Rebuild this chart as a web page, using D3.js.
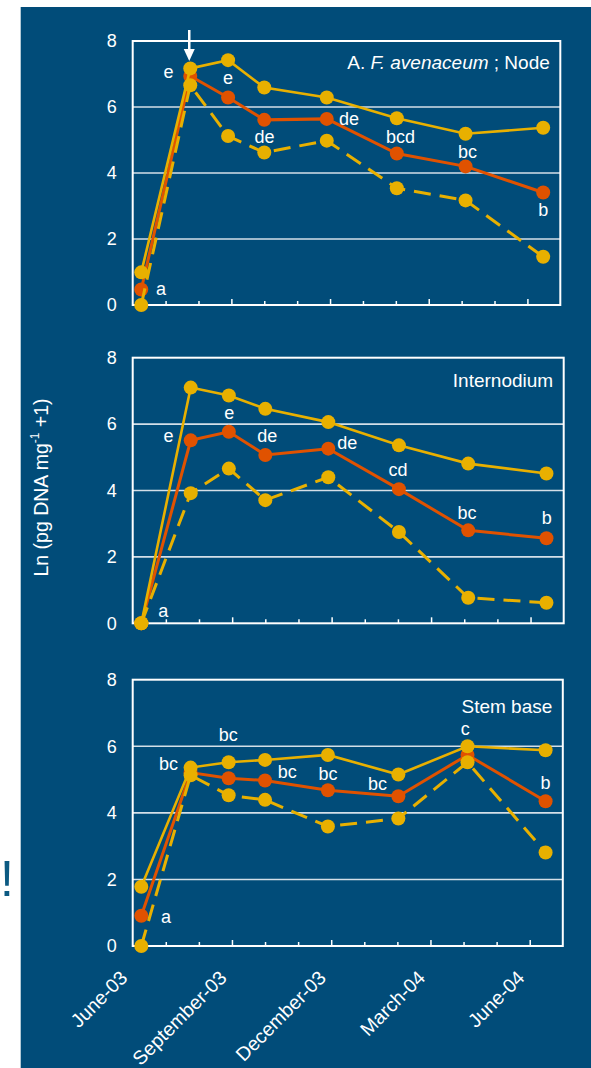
<!DOCTYPE html>
<html>
<head>
<meta charset="utf-8">
<script src="https://cdn.jsdelivr.net/npm/d3@7"></script>
<style>
  body { margin: 0; background: #fff; }
  svg { display: block; }
  text { font-family: "Liberation Sans", Arial, sans-serif; }
</style>
</head>
<body>
<svg width="591" height="1068"></svg>
<script>
// sampling times, in months after 1 June 2003
const sampleMonths = [0.26, 1.75, 2.9, 4.0, 5.9, 8.03, 10.12, 12.48];
const tickMonths = [0, 3, 6, 9, 12];
const tickLabels = ['June-03', 'September-03', 'December-03', 'March-04', 'June-04'];
const yTicks = [0, 2, 4, 6, 8];

// Node
const nodeUpper = [0.99, 7.17, 7.42, 6.59, 6.29, 5.66, 5.19, 5.37];
const nodeMean = [0.47, 6.94, 6.29, 5.61, 5.64, 4.59, 4.20, 3.41];
const nodeLower = [0, 6.66, 5.12, 4.62, 4.98, 3.54, 3.17, 1.46];
const nodeLetters = [[0.86, 0.30, 'a'], [1.09, 6.88, 'e'], [2.9, 6.69, 'e'], [4.01, 4.92, 'de'],
  [6.58, 5.45, 'de'], [8.14, 4.92, 'bcd'], [10.18, 4.45, 'bc'], [12.48, 2.71, 'b']];

// Internodium
const interUpper = [0, 7.10, 6.86, 6.46, 6.06, 5.36, 4.81, 4.51];
const interMean = [0, 5.51, 5.77, 5.07, 5.26, 4.04, 2.80, 2.56];
const interLower = [0, 3.92, 4.66, 3.71, 4.40, 2.75, 0.77, 0.62];
const interLetters = [[0.92, 0.2, 'a'], [1.08, 5.45, 'e'], [2.91, 6.15, 'e'], [4.06, 5.45, 'de'],
  [6.47, 5.26, 'de'], [8.0, 4.45, 'cd'], [10.08, 3.15, 'bc'], [12.49, 3.0, 'b']];

// Stem base
const stemUpper = [1.78, 5.36, 5.52, 5.59, 5.74, 5.15, 6.00, 5.88];
const stemMean = [0.91, 5.21, 5.04, 4.97, 4.68, 4.50, 5.74, 4.35];
const stemLower = [0, 5.13, 4.53, 4.39, 3.59, 3.83, 5.52, 2.81];
const stemLetters = [[1.01, 0.70, 'a'], [1.08, 5.29, 'bc'], [2.89, 6.17, 'bc'], [4.67, 5.05, 'bc'],
  [5.9, 4.99, 'bc'], [7.4, 4.69, 'bc'], [10.05, 6.35, 'c'], [12.48, 4.72, 'b']];

const GOLD = '#e8b000';
const RED = '#e05200';
const BG = '#014c79';

const panels = [
  { top: 41, bottom: 305, right: 560.3, mean: nodeMean, upper: nodeUpper, lower: nodeLower, letters: nodeLetters, title: 'node' },
  { top: 357.7, bottom: 623.3, right: 563.7, mean: interMean, upper: interUpper, lower: interLower, letters: interLetters, title: 'Internodium' },
  { top: 679.7, bottom: 946, right: 562.8, mean: stemMean, upper: stemUpper, lower: stemLower, letters: stemLetters, title: 'Stem base' }
];

const svg = d3.select('svg');

svg.append('rect')
  .attr('x', 20.7).attr('y', 7)
  .attr('width', 591 - 20.7).attr('height', 1068 - 7)
  .attr('fill', BG);

// stray glyph at the left page edge
svg.append('text')
  .attr('x', 0).attr('y', 896)
  .attr('font-size', 50)
  .attr('fill', '#0c5a82')
  .text('!');

panels.forEach((p, pi) => {
  const x = d3.scaleLinear().domain([0, 13]).range([132.7, p.right]);
  const y = d3.scaleLinear().domain([0, 8]).range([p.bottom, p.top]);
  const g = svg.append('g');

  // gridlines
  g.selectAll('line.grid').data([2, 4, 6]).enter().append('line')
    .attr('class', 'grid')
    .attr('x1', x(0)).attr('x2', x(13))
    .attr('y1', d => y(d)).attr('y2', d => y(d))
    .attr('stroke', '#d4dfe8').attr('stroke-width', 1.6);

  // frame
  g.append('rect')
    .attr('x', x(0)).attr('y', y(8))
    .attr('width', x(13) - x(0)).attr('height', y(0) - y(8))
    .attr('fill', 'none').attr('stroke', '#fff').attr('stroke-width', 2);

  // month ticks, inside
  const ax = g.append('g')
    .attr('transform', `translate(0,${y(0)})`)
    .call(d3.axisBottom(x).tickValues(d3.range(1, 13)).tickSize(-4).tickFormat(''));
  ax.select('.domain').remove();
  ax.selectAll('line').attr('stroke', '#fff').attr('stroke-width', 1.5)
    .filter(d => d % 3 === 0).attr('y2', -6);

  // y axis labels
  const ay = g.append('g')
    .attr('transform', `translate(${x(0)},0)`)
    .call(d3.axisLeft(y).tickValues(yTicks).tickSize(0).tickPadding(16));
  ay.select('.domain').remove();
  ay.attr('font-family', null).attr('font-size', 18);
  ay.selectAll('text').attr('fill', '#fff');

  const line = d3.line().x((d, i) => x(sampleMonths[i])).y(d => y(d));

  const series = [
    { values: p.mean, color: RED, dash: null, w: 3 },
    { values: p.upper, color: GOLD, dash: null, w: 2.6 },
    { values: p.lower, color: GOLD, dash: '17,9', w: 3 }
  ];
  series.forEach(s => {
    g.append('path')
      .datum(s.values)
      .attr('d', line)
      .attr('fill', 'none')
      .attr('stroke', s.color)
      .attr('stroke-width', s.w)
      .attr('stroke-dasharray', s.dash);
    g.selectAll(null).data(s.values).enter().append('circle')
      .attr('cx', (d, i) => x(sampleMonths[i]))
      .attr('cy', d => y(d))
      .attr('r', 7)
      .attr('fill', s.color);
  });

  // significance letters
  g.selectAll(null).data(p.letters).enter().append('text')
    .attr('x', d => x(d[0]))
    .attr('y', d => y(d[1]))
    .attr('text-anchor', 'middle')
    .attr('font-size', 18)
    .attr('fill', '#fff')
    .text(d => d[2]);

  // panel title
  const t = g.append('text')
    .attr('x', x(13) - 10.5)
    .attr('y', pi === 0 ? 69 : y(8) + (pi === 1 ? 29.6 : 33))
    .attr('text-anchor', 'end')
    .attr('font-size', 19)
    .attr('fill', '#fff');
  if (p.title === 'node') {
    t.append('tspan').text('A. ');
    t.append('tspan').attr('font-style', 'italic').text('F. avenaceum');
    t.append('tspan').text(' ; Node');
  } else {
    t.text(p.title);
  }

  if (pi === 0) {
    // arrow marking the second sampling
    const ax0 = x(sampleMonths[1]) - 1;
    g.append('line')
      .attr('x1', ax0).attr('x2', ax0)
      .attr('y1', 30).attr('y2', 51)
      .attr('stroke', '#fff').attr('stroke-width', 2.5);
    g.append('path')
      .attr('d', `M${ax0 - 5.5},49 L${ax0 + 5.5},49 L${ax0},61 Z`)
      .attr('fill', '#fff');
  }

  if (pi === 2) {
    g.selectAll(null).data(tickMonths).enter().append('text')
      .attr('transform', d => `translate(${x(d) - 4},979) rotate(-45)`)
      .attr('text-anchor', 'end')
      .attr('font-size', 19.5)
      .attr('fill', '#fff')
      .text((d, i) => tickLabels[i]);
  }
});

// y axis title
const yt = svg.append('text')
  .attr('transform', 'translate(48.3,487.5) rotate(-90)')
  .attr('text-anchor', 'middle')
  .attr('font-size', 19.5)
  .attr('fill', '#fff');
yt.append('tspan').text('Ln (pg DNA mg');
yt.append('tspan').attr('font-size', 12).attr('dy', -9).text('-1');
yt.append('tspan').attr('dy', 9).text(' +1)');
</script>
</body>
</html>
